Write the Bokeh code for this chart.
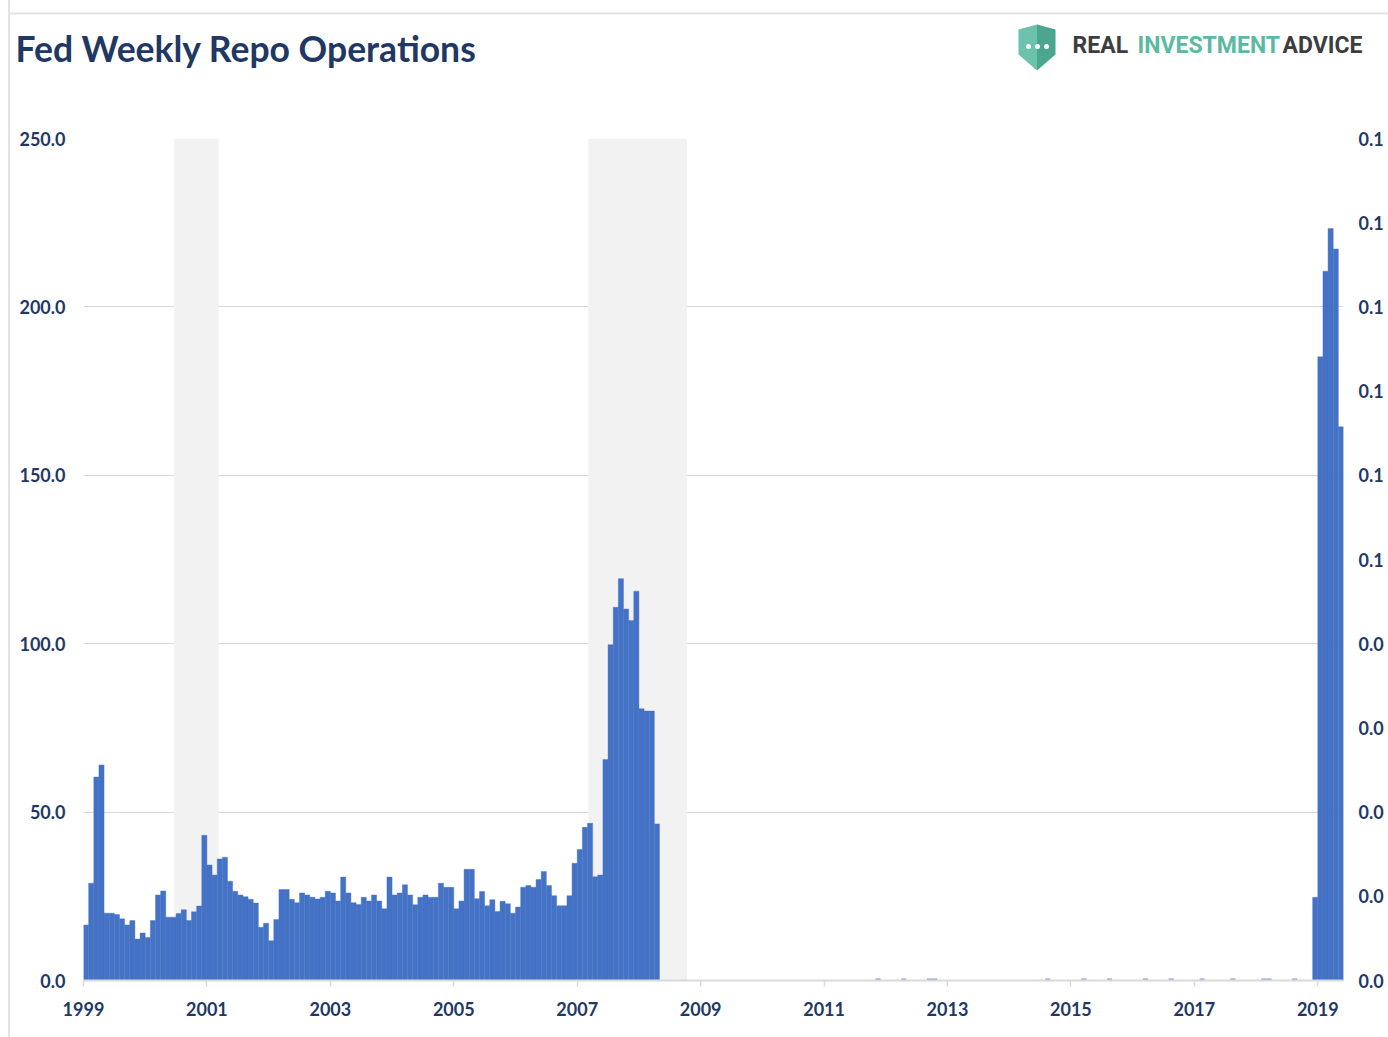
from bokeh.plotting import figure
from bokeh.layouts import column
from bokeh.models import FixedTicker, LinearAxis, Range1d
from bokeh.core.properties import value
from bokeh.embed import file_html
from bokeh.resources import INLINE

# ---------------- data (billions, monthly) ----------------
vals_1999 = [16.5, 28.9, 60.4, 64.0, 20.0, 20.0, 19.6, 18.3, 16.5, 17.8, 12.3, 14.1]
vals_2000 = [12.8, 17.8, 25.4, 26.6, 18.8, 18.8, 19.9, 21.0, 17.8, 20.4, 22.1, 43.1]
vals_2001 = [34.3, 31.3, 36.1, 36.6, 29.5, 26.5, 25.4, 24.9, 24.1, 23.0, 15.8, 17.0]
vals_2002 = [11.8, 18.1, 27.0, 27.0, 24.1, 23.1, 26.0, 25.4, 24.7, 24.2, 24.7, 26.5]
vals_2003 = [26.0, 23.6, 30.7, 26.0, 23.1, 22.6, 24.7, 23.6, 25.4, 23.6, 21.3, 30.7]
vals_2004 = [25.4, 26.0, 28.4, 25.4, 22.5, 24.7, 25.4, 24.7, 24.7, 28.9, 27.7, 27.7]
vals_2005 = [21.3, 23.6, 33.0, 33.0, 24.3, 26.4, 22.2, 24.0, 20.5, 23.5, 22.8, 20.0]
vals_2006 = [21.8, 27.7, 28.2, 27.7, 30.0, 32.4, 28.2, 25.2, 22.2, 22.2, 25.2, 34.8]
vals_2007 = [38.9, 45.5, 46.7, 30.8, 31.3, 65.6, 99.7, 110.8, 119.3, 110.3, 106.9, 115.6]
vals_2008 = [80.7, 80.0, 80.0, 46.5]
early_years = [1999, 2000, 2001, 2002, 2003, 2004, 2005, 2006, 2007, 2008]
early_values = [vals_1999, vals_2000, vals_2001, vals_2002, vals_2003,
                vals_2004, vals_2005, vals_2006, vals_2007, vals_2008]

small_months = ["2011-11", "2012-04", "2012-09", "2012-10", "2014-08", "2015-03",
                "2015-08", "2016-03", "2016-08", "2017-02", "2017-08", "2018-02",
                "2018-03", "2018-08"]
small_values = [0.6, 0.6, 0.6, 0.6, 0.6, 0.6, 0.6, 0.6, 0.6, 0.6, 0.6, 0.6, 0.6, 0.6]

late_months = ["2018-12", "2019-01", "2019-02", "2019-03", "2019-04", "2019-05"]
late_values = [24.7, 185.2, 210.6, 223.3, 217.2, 164.4]

rec_start = [2000.47, 2007.18]
rec_end = [2001.19, 2008.78]

x_ticks = [1999, 2001, 2003, 2005, 2007, 2009, 2011, 2013, 2015, 2017, 2019]
x_labels = ["1999", "2001", "2003", "2005", "2007", "2009", "2011", "2013", "2015", "2017", "2019"]
y_ticks = [0, 50, 100, 150, 200, 250]
y_labels = ["0.0", "50.0", "100.0", "150.0", "200.0", "250.0"]
y2_ticks = [0, 25, 50, 75, 100, 125, 150, 175, 200, 225, 250]
y2_labels = ["0.0", "0.0", "0.0", "0.0", "0.0", "0.1", "0.1", "0.1", "0.1", "0.1", "0.1"]

title_text = "Fed Weekly Repo Operations"
logo_words = ["REAL", "INVESTMENT", "ADVICE"]

# ---------------- build series ----------------
def month_pos(s):
    y, m = s.split("-")
    return int(y) + (int(m) - 1) / 12 + 1 / 24

xs, tops = [], []
for yr, vals in zip(early_years, early_values):
    for i, v in enumerate(vals):
        xs.append(yr + i / 12 + 1 / 24)
        tops.append(v)
sx = [month_pos(m) for m in small_months]
lx = [month_pos(m) for m in late_months]

# ---------------- styles ----------------
NAVY = "#1f3864"
FONT = "Lato"
BLUE = "#4472c4"
TEAL = "#5cb9a1"
DARK = "#3d3d3d"
EDGE = "#e3e3e3"
W = 1388
HH = 112               # header height
H = 1037 - HH          # main figure height
card_bg = {"background": "linear-gradient(to right, #ffffff 0px, #ffffff 8px, %s 8px, %s 10px, #ffffff 10px, #ffffff 100%%)" % (EDGE, EDGE)}

# ---------------- header (title + logo) ----------------
hd = figure(width=W, height=HH, output_backend="svg", toolbar_location=None,
            x_range=Range1d(0, W), y_range=Range1d(HH, 0),
            x_axis_location=None, y_axis_location=None, min_border=0)
hd.frame_align = False
hd.grid.visible = False
hd.outline_line_color = None
hd.background_fill_color = None
hd.border_fill_color = None
hd.styles = card_bg

# top card edge
hd.quad(left=[8], right=[W], top=[12], bottom=[14], fill_color=EDGE, line_color=None)

hd.text(x=[15], y=[48], text=[title_text], text_font=value(FONT),
        text_font_style="bold", text_font_size="35.5px", text_color=NAVY,
        text_baseline="alphabetic", text_align="left")

# shield
hd.patches(xs=[[1018, 1036.5, 1036.5, 1018], [1036.5, 1055, 1055, 1036.5]],
           ys=[[29, 24, 70, 54], [24, 29, 54, 70]],
           fill_color=["#6cc2ad", "#4aa68e"], line_color=None)
hd.scatter(x=[1028, 1037, 1046], y=[46, 46, 46], size=5, fill_color="white", line_color=None)

hd.text(x=[1072, 1137, 1282], y=[45, 45, 45], text=logo_words,
        text_font=value("Roboto"), text_font_style="bold", text_font_size="23px",
        text_color=[DARK, TEAL, DARK], text_baseline="alphabetic", text_align="left")

# ---------------- main chart ----------------
FL, FR, FT, FB = 83, 45, 138 - HH, 57
p = figure(width=W, height=H, output_backend="svg", toolbar_location=None,
           x_range=Range1d(1999.0, 2019 + 5 / 12), y_range=Range1d(0, 250),
           min_border_left=FL, min_border_right=FR, min_border_top=FT,
           min_border_bottom=FB)
p.frame_align = False
p.outline_line_color = None
p.background_fill_color = "white"
p.border_fill_color = None
p.styles = card_bg

p.xgrid.visible = False
p.ygrid.grid_line_color = "#d9d9d9"
p.ygrid.grid_line_width = 1.2

# recession shading
p.quad(left=rec_start, right=rec_end, bottom=p.y_range.start, top=p.y_range.end,
       fill_color="#f2f2f2", line_color=None)

# bars
p.vbar(x=xs, top=tops, width=1 / 12, fill_color=BLUE, line_color=BLUE, line_width=0.4)
p.vbar(x=sx, top=small_values, width=1 / 12, fill_color="#7f9fd8", line_color=None)
p.vbar(x=lx, top=late_values, width=1 / 12, fill_color=BLUE, line_color=BLUE, line_width=0.4)

def style_labels(ax):
    ax.major_label_text_font = FONT
    ax.major_label_text_font_style = "bold"
    ax.major_label_text_font_size = "18px"
    ax.major_label_text_color = NAVY

# x axis
xa = p.xaxis[0]
xa.ticker = FixedTicker(ticks=x_ticks)
xa.major_label_overrides = {t: l for t, l in zip(x_ticks, x_labels)}
xa.axis_line_color = "#d9d9d9"
xa.axis_line_width = 2
xa.major_tick_line_color = "#d9d9d9"
xa.major_tick_line_width = 1.5
xa.major_tick_out = 6
xa.major_tick_in = 0
xa.minor_tick_out = 0
xa.minor_tick_in = 0
xa.major_label_standoff = 15
style_labels(xa)

# left y axis
ya = p.yaxis[0]
ya.ticker = FixedTicker(ticks=y_ticks)
ya.major_label_overrides = {t: l for t, l in zip(y_ticks, y_labels)}
ya.axis_line_color = None
ya.major_tick_line_color = None
ya.major_tick_out = 0
ya.major_tick_in = 0
ya.minor_tick_line_color = None
ya.minor_tick_out = 0
ya.minor_tick_in = 0
ya.major_label_standoff = 18
style_labels(ya)

# right y axis
ra = LinearAxis(ticker=FixedTicker(ticks=y2_ticks))
ra.major_label_overrides = {t: l for t, l in zip(y2_ticks, y2_labels)}
ra.axis_line_color = None
ra.major_tick_line_color = None
ra.major_tick_out = 0
ra.major_tick_in = 0
ra.minor_tick_line_color = None
ra.minor_tick_out = 0
ra.minor_tick_in = 0
ra.major_label_standoff = 15
style_labels(ra)
p.add_layout(ra, "right")

layout = column(hd, p, spacing=0)
open("out.html", "w").write(file_html(layout, INLINE))
